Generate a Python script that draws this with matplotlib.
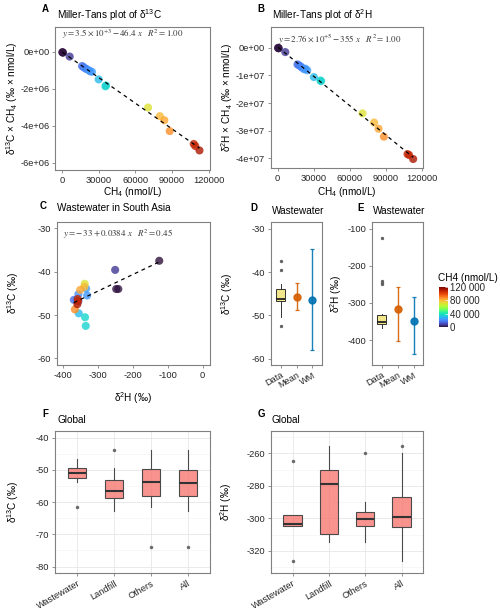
import matplotlib

matplotlib.use("Agg")
import matplotlib.pyplot as plt
import numpy as np
from matplotlib import cm, colors
from matplotlib.ticker import FixedLocator, FuncFormatter, MultipleLocator


FIG_W, FIG_H = 500, 614

# per-sample measurements (wastewater, South Asia)
CH4 = [300, 600, 800, 6300, 16400, 17500, 19000, 20000, 22000, 24500, 23000,
       30000, 36000, 35500, 70400, 80000, 83700, 88100, 112400, 109000, 107700]
D13C = [-37.5, -44.0, -44.0, -39.6, -46.5, -46.6, -46.8, -46.3, -45.2, -43.9, -45.5,
        -49.6, -50.5, -52.5, -42.8, -43.5, -44.2, -48.7, -47.5, -46.8, -46.3]
D2H = [-124, -247, -241, -250, -368, -360, -355, -358, -355, -333, -330,
       -354, -336, -334, -337, -338, -350, -365, -358, -356, -357]

# fitted lines (intercept, slope) as printed on the panels
FIT_A = (3.5e3, -46.4)
FIT_B = (2.76e5, -355.0)
FIT_C = (-33.0, 0.0384)

SUMMARY_LABELS = ["Data", "Mean", "WM"]
# (centre, low, high)
D13C_MEAN = (-45.7, -48.8, -42.5)
D13C_WM = (-46.4, -58.1, -34.6)
D2H_MEAN = (-316.0, -401.7, -256.0)
D2H_WM = (-349.0, -437.5, -285.0)

GROUPS = ["Wastewater", "Landfill", "Others", "All"]
F_MED = [-51.1, -56.6, -53.7, -54.1]
F_Q1 = [-52.4, -58.6, -58.0, -58.1]
F_Q3 = [-49.4, -53.0, -49.6, -50.0]
F_LO = [-53.7, -62.8, -61.4, -62.8]
F_HI = [-46.7, -49.4, -43.9, -43.9]
F_OUT = [[-61.4], [-43.9], [-73.8], [-73.8]]

G_MED = [-303.6, -278.9, -300.4, -299.0]
G_Q1 = [-304.7, -309.9, -304.7, -305.5]
G_Q3 = [-297.9, -270.5, -296.4, -287.0]
G_LO = [-304.7, -314.8, -314.4, -326.2]
G_HI = [-297.9, -255.3, -290.1, -260.0]
G_OUT = [[-264.9, -326.2], [], [-260.0], [-255.3]]

CMAP = matplotlib.colormaps["turbo"]
NORM = colors.Normalize(vmin=0, vmax=120000)

FRAME = "#808080"
TICK_TEXT = "#262626"
MEAN_COLOR = "#D55E00"
WM_COLOR = "#0072B2"
BOX_YELLOW = "#F2E68A"
BOX_SALMON = (0.97, 0.46, 0.43, 0.78)
TICK_SIZE = 6.7

plt.rcParams["font.family"] = ["Liberation Sans", "DejaVu Sans"]
plt.rcParams["axes.unicode_minus"] = False
plt.rcParams["mathtext.fontset"] = "custom"
plt.rcParams["mathtext.rm"] = "Liberation Sans"
plt.rcParams["mathtext.it"] = "Liberation Sans:italic"
plt.rcParams["mathtext.bf"] = "Liberation Sans:bold"


def add_axes_px(fig, left, top, right, bottom):
    return fig.add_axes([
        left / FIG_W,
        1 - bottom / FIG_H,
        (right - left) / FIG_W,
        (bottom - top) / FIG_H,
    ])


def fig_text(fig, x, y, text, **kwargs):
    fig.text(x / FIG_W, 1 - y / FIG_H, text, **kwargs)


def panel_heading(fig, letter, lx, ly, title, tx, ty):
    fig_text(fig, lx, ly, letter, fontsize=7, fontweight="bold", va="center", ha="left")
    fig_text(fig, tx, ty, title, fontsize=7.2, va="center", ha="left")


def style_axes(ax):
    for spine in ax.spines.values():
        spine.set_color(FRAME)
        spine.set_linewidth(0.8)
    ax.tick_params(
        colors=FRAME, labelcolor=TICK_TEXT, labelsize=TICK_SIZE,
        length=2.5, width=0.6, pad=1.5,
    )


def sci_label(value, _pos):
    return f"{value:.0e}"


def scatter_panel(ax, x, y, fit, text, text_x, text_y):
    ax.scatter(x, y, c=CH4, cmap=CMAP, norm=NORM, s=34, alpha=0.8,
               edgecolors="none", zorder=2)
    xs = np.array([min(x), max(x)])
    ax.plot(xs, fit[0] + fit[1] * xs, color="black", linestyle=(0, (3, 3)),
            linewidth=0.9, zorder=3)
    ax.text(text_x, text_y, text, fontsize=6.4, color="#333333", va="center",
            ha="left", math_fontfamily="stix")


def set_ylabel_at(ax, text, x_frac):
    ax.set_ylabel(text, fontsize=7.2)
    ax.yaxis.set_label_coords(x_frac, 0.5)
    ax.yaxis.label.set_va("center")


def set_xlabel_at(ax, text, y_frac):
    ax.set_xlabel(text, fontsize=7.2)
    ax.xaxis.set_label_coords(0.5, y_frac)
    ax.xaxis.label.set_va("center")


def draw_miller_tans(fig):
    ch4 = np.array(CH4, dtype=float)

    ax = add_axes_px(fig, 55, 26.7, 210, 170)
    style_axes(ax)
    ax.set_xlim(-5700, 121000)
    ax.set_ylim(-6.4e6, 1.37e6)
    scatter_panel(ax, ch4, ch4 * np.array(D13C), FIT_A,
                  r"$y = 3.5\times10^{+3} - 46.4\ x\ \ \ R^2 = 1.00$", 0, 0.97e6)
    ax.xaxis.set_major_locator(FixedLocator([0, 30000, 60000, 90000, 120000]))
    ax.xaxis.set_major_formatter(FuncFormatter(lambda v, p: f"{v:.0f}"))
    ax.yaxis.set_major_locator(FixedLocator([0, -2e6, -4e6, -6e6]))
    ax.yaxis.set_major_formatter(FuncFormatter(sci_label))
    set_ylabel_at(ax, "δ$^{13}$C × CH$_4$ (‰ × nmol/L)", -0.275)
    set_xlabel_at(ax, "CH$_4$ (nmol/L)", -0.152)
    panel_heading(fig, "A", 42, 9, "Miller-Tans plot of δ$^{13}$C", 57, 15)

    ax = add_axes_px(fig, 270.7, 26.7, 423.3, 168.3)
    style_axes(ax)
    ax.set_xlim(-5800, 120800)
    ax.set_ylim(-43.6e6, 7.6e6)
    scatter_panel(ax, ch4, ch4 * np.array(D2H), FIT_B,
                  r"$y = 2.76\times10^{+5} - 355\ x\ \ \ R^2 = 1.00$", 0, 2.9e6)
    ax.xaxis.set_major_locator(FixedLocator([0, 30000, 60000, 90000, 120000]))
    ax.xaxis.set_major_formatter(FuncFormatter(lambda v, p: f"{v:.0f}"))
    ax.yaxis.set_major_locator(FixedLocator([0, -1e7, -2e7, -3e7, -4e7]))
    ax.yaxis.set_major_formatter(FuncFormatter(sci_label))
    set_ylabel_at(ax, "δ$^{2}$H × CH$_4$ (‰ × nmol/L)", -0.283)
    set_xlabel_at(ax, "CH$_4$ (nmol/L)", -0.165)
    panel_heading(fig, "B", 257, 9, "Miller-Tans plot of δ$^{2}$H", 272, 15)


def draw_dual_isotope(fig):
    ax = add_axes_px(fig, 56.7, 221.7, 210, 365)
    style_axes(ax)
    ax.set_xlim(-417, 21)
    ax.set_ylim(-61.5, -28.5)
    scatter_panel(ax, np.array(D2H, dtype=float), np.array(D13C), FIT_C,
                  r"$y = -\,33 + 0.0384\ x\ \ \ R^2 = 0.45$", -400, -31.5)
    ax.xaxis.set_major_locator(FixedLocator([-400, -300, -200, -100, 0]))
    ax.yaxis.set_major_locator(FixedLocator([-60, -50, -40, -30]))
    set_ylabel_at(ax, "δ$^{13}$C (‰)", -0.285)
    set_xlabel_at(ax, "δ$^{2}$H (‰)", -0.23)
    panel_heading(fig, "C", 40, 206, "Wastewater in South Asia", 57, 208)


def summary_panel(ax, values, mean, wm):
    ax.boxplot(
        values, positions=[1], widths=0.58, patch_artist=True, showcaps=False,
        boxprops=dict(facecolor=BOX_YELLOW, edgecolor="#333333", linewidth=0.7),
        medianprops=dict(color="#222222", linewidth=1.3),
        whiskerprops=dict(color="#333333", linewidth=0.7),
        flierprops=dict(marker="o", markersize=2.4, markerfacecolor="#606060",
                        markeredgecolor="none"),
    )
    for pos, (centre, low, high), color in [(2, mean, MEAN_COLOR), (3, wm, WM_COLOR)]:
        ax.errorbar(
            [pos], [centre], yerr=[[centre - low], [high - centre]], fmt="o",
            color=color, markersize=5, elinewidth=1.0, capsize=1.6,
            capthick=0.9, alpha=0.9,
        )
    ax.set_xlim(0.4, 3.6)
    ax.set_xticks([1, 2, 3])
    ax.set_xticklabels(SUMMARY_LABELS, rotation=30, ha="right",
                       rotation_mode="anchor", fontsize=TICK_SIZE)


def draw_summaries(fig):
    ax = add_axes_px(fig, 271, 222.3, 322, 365)
    style_axes(ax)
    summary_panel(ax, D13C, D13C_MEAN, D13C_WM)
    ax.set_ylim(-61.5, -28.5)
    ax.yaxis.set_major_locator(FixedLocator([-60, -50, -40, -30]))
    set_ylabel_at(ax, "δ$^{13}$C (‰)", -0.863)
    panel_heading(fig, "D", 250, 208, "Wastewater", 272, 211)

    ax = add_axes_px(fig, 372, 222.3, 423.3, 365)
    style_axes(ax)
    summary_panel(ax, D2H, D2H_MEAN, D2H_WM)
    ax.set_ylim(-467, -83)
    ax.yaxis.set_major_locator(FixedLocator([-400, -300, -200, -100]))
    set_ylabel_at(ax, "δ$^{2}$H (‰)", -0.70)
    panel_heading(fig, "E", 357, 208, "Wastewater", 373, 211)

    cax = add_axes_px(fig, 439, 287, 448, 327)
    bar = fig.colorbar(cm.ScalarMappable(norm=NORM, cmap=CMAP), cax=cax)
    bar.outline.set_visible(False)
    bar.set_ticks([0, 40000, 80000, 120000])
    bar.set_ticklabels(["0", "40 000", "80 000", "120 000"])
    cax.tick_params(labelsize=7, length=2, color="white", width=0.5,
                    direction="in", pad=1.5, labelcolor=TICK_TEXT)
    fig_text(fig, 438, 278, "CH4 (nmol/L)", fontsize=7.2, va="center", ha="left")


def global_panel(ax, med, q1, q3, lo, hi, out):
    stats = [
        dict(med=med[i], q1=q1[i], q3=q3[i], whislo=lo[i], whishi=hi[i],
             fliers=out[i], label=GROUPS[i])
        for i in range(len(GROUPS))
    ]
    ax.bxp(
        stats, positions=range(1, len(GROUPS) + 1), widths=0.5,
        patch_artist=True, showcaps=False,
        boxprops=dict(facecolor=BOX_SALMON, edgecolor="#4a4a4a", linewidth=0.8),
        medianprops=dict(color="#333333", linewidth=1.5),
        whiskerprops=dict(color="#4a4a4a", linewidth=0.8),
        flierprops=dict(marker="o", markersize=2.5, markerfacecolor="#6a6a6a",
                        markeredgecolor="none"),
    )
    ax.set_xlim(0.4, len(GROUPS) + 0.6)
    ax.set_xticks(range(1, len(GROUPS) + 1))
    ax.set_xticklabels(GROUPS, rotation=30, ha="right", rotation_mode="anchor",
                       fontsize=TICK_SIZE)
    ax.set_axisbelow(True)
    ax.grid(which="major", color="#e6e6e6", linewidth=0.6)
    ax.grid(which="minor", axis="y", color="#f3f3f3", linewidth=0.45)
    ax.tick_params(which="minor", length=0)


def draw_global(fig):
    ax = add_axes_px(fig, 55, 431, 210, 573.3)
    style_axes(ax)
    global_panel(ax, F_MED, F_Q1, F_Q3, F_LO, F_HI, F_OUT)
    ax.set_ylim(-82.1, -37.9)
    ax.yaxis.set_major_locator(FixedLocator([-80, -70, -60, -50, -40]))
    ax.yaxis.set_minor_locator(MultipleLocator(5))
    set_ylabel_at(ax, "δ$^{13}$C (‰)", -0.271)
    panel_heading(fig, "F", 42, 414, "Global", 57, 420)

    ax = add_axes_px(fig, 270.7, 431, 423.3, 573.3)
    style_axes(ax)
    global_panel(ax, G_MED, G_Q1, G_Q3, G_LO, G_HI, G_OUT)
    ax.set_ylim(-333.9, -246.2)
    ax.yaxis.set_major_locator(FixedLocator([-320, -300, -280, -260]))
    ax.yaxis.set_minor_locator(MultipleLocator(10))
    set_ylabel_at(ax, "δ$^{2}$H (‰)", -0.293)
    panel_heading(fig, "G", 258, 414, "Global", 271, 420)


def main():
    fig = plt.figure(figsize=(FIG_W / 100, FIG_H / 100), dpi=100)
    draw_miller_tans(fig)
    draw_dual_isotope(fig)
    draw_summaries(fig)
    draw_global(fig)
    fig.savefig("out.png", dpi=100)
    plt.close(fig)


if __name__ == "__main__":
    main()
